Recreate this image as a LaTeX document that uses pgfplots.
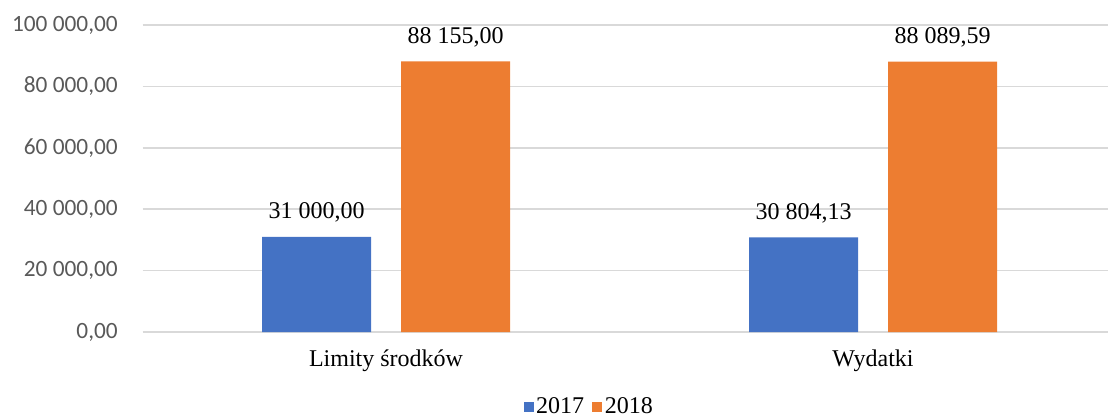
\documentclass[border=0pt]{standalone}
\usepackage{fontspec}
\setmainfont{Liberation Serif}
\newfontfamily\calibri{Carlito}
\usepackage{pgfplots}
\pgfplotsset{compat=1.18}
\definecolor{cblue}{HTML}{4472C4}
\definecolor{corange}{HTML}{ED7D31}
\definecolor{gridgray}{HTML}{D9D9D9}
\definecolor{ticktext}{HTML}{595959}
\begin{document}
\begin{tikzpicture}
\begin{axis}[
  name=ax,
  scale only axis,
  width=724.1pt, height=230.25pt,
  xmin=-0.5, xmax=1.4825,
  ymin=0, ymax=100000,
  ybar=22.5pt,
  bar width=81.75pt,
  axis line style={draw=none},
  major tick length=0pt,
  xtick={0,1},
  xticklabels={Limity środków, Wydatki},
  xticklabel style={font=\fontsize{18}{20}\selectfont, anchor=base, inner sep=0pt, yshift=-26pt},
  ytick={0,20000,40000,60000,80000,100000},
  ymajorgrids,
  grid style={gridgray, line width=1.1pt},
  scaled y ticks=false,
  yticklabel style={font=\calibri\fontsize{17.5}{20}\selectfont, text=ticktext, anchor=east, inner sep=0pt, xshift=-18.4pt,
    /pgf/number format/.cd, fixed, fixed zerofill, precision=2, use comma, 1000 sep={\ }, assume math mode=true},
  nodes near coords,
  point meta=explicit symbolic,
  nodes near coords style={font=\fontsize{18}{20}\selectfont, anchor=base, inner sep=0pt, yshift=13.5pt, text=black},
  legend style={at={(0.463,-0.244)}, anchor=center, draw=none, legend columns=2,
    font=\fontsize{18}{20}\selectfont, /tikz/every even column/.append style={column sep=4pt}},
  legend image code/.code={\fill[#1] (0pt,-3.5pt) rectangle (7.5pt,4pt);},
  clip=false,
]
\addplot[fill=cblue, draw=none] coordinates {(0,31000) [31 000,00] (1,30804.13) [30 804,13]};
\addplot[fill=corange, draw=none] coordinates {(0,88155) [88 155,00] (1,88089.59) [88 089,59]};
\legend{2017,2018}
\end{axis}
\pgfresetboundingbox
\path (ax.south west) ++(-106.9pt,-65.25pt) rectangle ++(831pt,314.25pt);
\end{tikzpicture}
\end{document}
